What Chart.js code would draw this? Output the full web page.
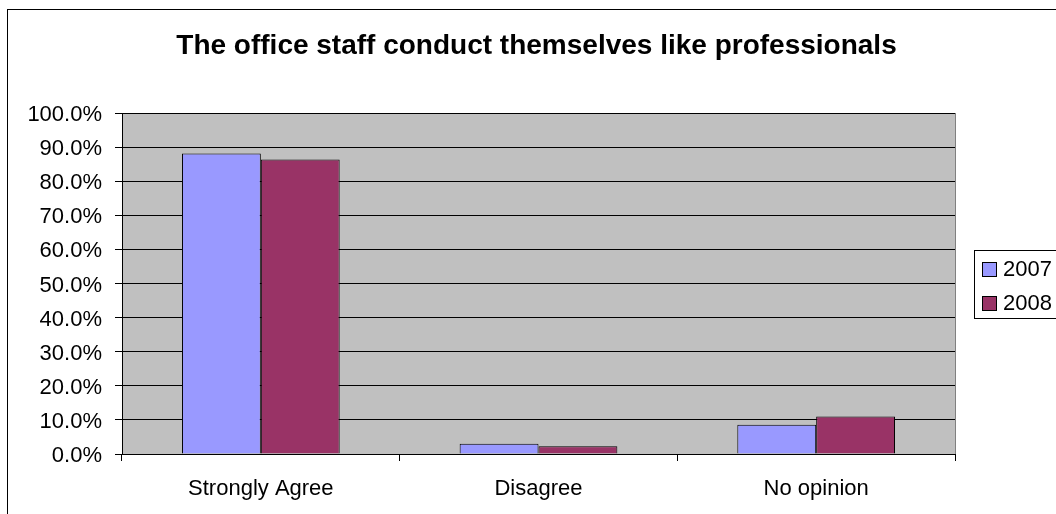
<!DOCTYPE html>
<html>
<head>
<meta charset="utf-8">
<script src="https://cdn.jsdelivr.net/npm/chart.js@4/dist/chart.umd.min.js"></script>
<style>
  html, body { margin: 0; padding: 0; background: #fff; overflow: hidden; }
  #wrap { width: 1056px; height: 514px; }
</style>
</head>
<body>
<div id="wrap"><canvas id="chart"></canvas></div>
<script>
// Survey answers, percent of respondents
const categories = ['Strongly Agree', 'Disagree', 'No opinion'];
const seriesLabels = ['2007', '2008'];
const values2007 = [88.1, 3.0, 8.6];
const values2008 = [86.4, 2.3, 11.0];
const seriesColors = ['#9999FF', '#993366'];
const yTicks = [0, 10, 20, 30, 40, 50, 60, 70, 80, 90, 100];

const FONT = '"Liberation Sans", Arial, sans-serif';

// grey plot background, outer frame and the boxed legend on the right
const frame = {
  id: 'frame',
  beforeDraw(chart) {
    const { ctx, chartArea: a } = chart;
    ctx.save();
    ctx.fillStyle = '#fff';
    ctx.fillRect(0, 0, chart.width, chart.height);
    ctx.strokeStyle = '#000';
    ctx.lineWidth = 1;
    ctx.strokeRect(7.5, 9.5, chart.width + 20, chart.height + 20);
    ctx.fillStyle = '#C0C0C0';
    ctx.fillRect(a.left, a.top, a.right - a.left, a.bottom - a.top);
    ctx.strokeStyle = '#808080';
    ctx.strokeRect(Math.round(a.left) + 0.5, Math.round(a.top) + 0.5,
      Math.round(a.right - a.left), Math.round(a.bottom - a.top));
    ctx.restore();
  },
  afterDraw(chart) {
    const { ctx } = chart;
    ctx.save();
    ctx.strokeStyle = '#000';
    ctx.lineWidth = 1;
    ctx.strokeRect(974.5, 250.5, 120, 68);
    ctx.font = '22px ' + FONT;
    ctx.textBaseline = 'middle';
    chart.data.datasets.forEach((ds, i) => {
      const y = 262 + i * 34;
      ctx.fillStyle = ds.backgroundColor;
      ctx.fillRect(982.5, y + 0.5, 14, 14);
      ctx.strokeRect(982.5, y + 0.5, 14, 14);
      ctx.fillStyle = '#000';
      ctx.fillText(ds.label, 1003, y + 8);
    });
    ctx.restore();
  }
};

new Chart(document.getElementById('chart'), {
  type: 'bar',
  data: {
    labels: categories,
    datasets: [
      { label: seriesLabels[0], data: values2007, backgroundColor: seriesColors[0] },
      { label: seriesLabels[1], data: values2008, backgroundColor: seriesColors[1] }
    ]
  },
  options: {
    responsive: true,
    maintainAspectRatio: false,
    animation: false,
    devicePixelRatio: 1,
    layout: { padding: { left: 17, right: 0, top: 0, bottom: 0 } },
    datasets: {
      bar: {
        borderColor: '#000',
        borderWidth: 1,
        categoryPercentage: 0.568,
        barPercentage: 1.0
      }
    },
    plugins: {
      legend: { display: false },
      tooltip: { enabled: false },
      title: {
        display: true,
        text: 'The office staff conduct themselves like professionals',
        color: '#000',
        font: { family: FONT, size: 28, weight: 'bold', lineHeight: 1.2 },
        padding: { top: 29, bottom: 50.4 }
      }
    },
    scales: {
      x: {
        grid: { display: true, drawOnChartArea: false, offset: true, tickLength: 7, color: '#000' },
        border: { display: true, color: '#000' },
        ticks: { color: '#000', padding: 15, font: { family: FONT, size: 22 } },
        afterFit(scale) { scale.height = 60; }
      },
      y: {
        min: 0,
        max: 100,
        afterBuildTicks(scale) { scale.ticks = yTicks.map(v => ({ value: v })); },
        grid: { color: '#000', tickLength: 7 },
        border: { display: true, color: '#000' },
        ticks: {
          color: '#000',
          padding: 13,
          labelOffset: 2,
          font: { family: FONT, size: 22 },
          callback: v => v.toFixed(1) + '%'
        },
        afterFit(scale) { scale.width = 105; }
      },
      // empty strip on the right that leaves room for the legend
      legendSpace: {
        type: 'linear',
        position: 'right',
        grid: { display: false },
        border: { display: false },
        ticks: { display: false },
        afterFit(scale) { scale.width = 101; }
      }
    }
  },
  plugins: [frame]
});
</script>
</body>
</html>
